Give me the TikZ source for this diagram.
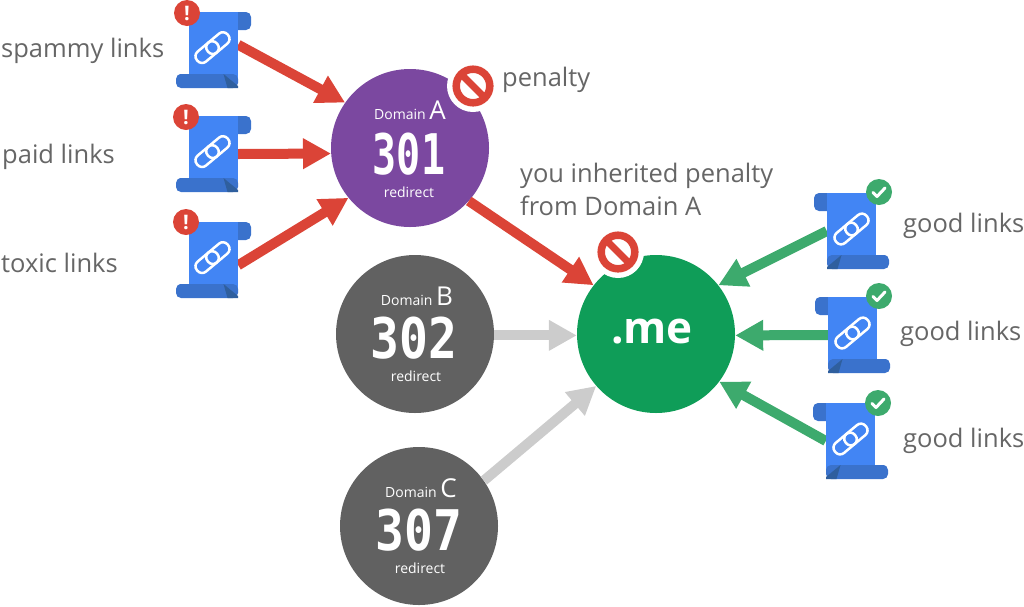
\documentclass[tikz,border=0pt]{standalone}
\usepackage{graphicx}
\usepackage{fontspec}
\setmainfont{Open Sans}
\newfontfamily\numfont{DejaVu Sans Mono}
\usetikzlibrary{arrows.meta}
\definecolor{docblue}{HTML}{4285F4}
\definecolor{docdark}{HTML}{3A72CC}
\definecolor{docfold}{HTML}{2F5F9E}
\definecolor{badred}{HTML}{DB4437}
\definecolor{goodgreen}{HTML}{3DAA6D}
\definecolor{megreen}{HTML}{0F9D58}
\definecolor{palegray}{HTML}{CCCCCC}
\definecolor{textgray}{HTML}{666666}
\definecolor{domgray}{HTML}{616161}
\definecolor{dompurple}{HTML}{7B48A0}
\newcommand{\domfigure}[2]{\scalebox{#1}[1.12]{#2}}
\tikzset{
  domain/.style={circle,fill=#1,minimum size=158,inner sep=0},
  label/.style={anchor=base west,text=textgray,font=\fontsize{25.5}{25.5}\selectfont,inner sep=0},
  dominfo/.style={text=white,font=\fontsize{14}{14}\selectfont,inner sep=0},
  domnum/.style={text=white,font=\numfont\bfseries\fontsize{50}{50}\selectfont,inner sep=0},
  doc/.style={minimum width=49,minimum height=76,inner sep=0},
  link/.style={-{Triangle[length=28,width=29]},line width=10,#1},
  scrollsheet/.pic={
    \fill[docdark,rounded corners=5] (18,-38) -- (37.5,-38) -- (37.5,-20) -- (18,-20) -- cycle;
    \fill[docblue] (-24.5,-38) -- (24.5,-38) -- (24.5,30) -- (-24.5,30) -- cycle;
    \fill[docdark,rounded corners=5] (-30,24) -- (-37.5,24) -- (-37.5,38) -- (24.5,38) -- (24.5,24) -- cycle;
    \fill[docfold] (10,24) -- (24.5,36) -- (24.5,38) -- (14,38) -- cycle;
  },
  chainicon/.pic={
    \draw[white,line width=2.5,rounded corners=6,rotate=40,shift={(-7,0)}] (-13,-6.5) rectangle (13,6.5);
    \draw[white,line width=2.5,rounded corners=6,rotate=40,shift={(7,0)}] (-13,-6.5) rectangle (13,6.5);
  },
  stopsign/.pic={
    \fill[white] (0,0) circle (26);
    \draw[badred,line width=7.5] (0,0) circle (16.8);
    \draw[badred,line width=7] (-12,-12) -- (12,12);
  },
  alertbadge/.pic={
    \fill[badred] (0,0) circle (13);
    \node[text=white,font=\bfseries\fontsize{20}{20}\selectfont,inner sep=0] {!};
  },
  checkbadge/.pic={
    \fill[goodgreen] (0,0) circle (13);
    \draw[white,line width=3,line cap=round,line join=round] (-6,0.5) -- (-2,4.5) -- (6,-4);
  }
}

\begin{document}
\begin{tikzpicture}[x=1pt,y=-1pt]
\useasboundingbox (0,0) rectangle (1024,606);
% circles
\node[domain=dompurple] (domA) at (410,148) {};
\node[domain=domgray] (domB) at (415,334) {};
\node[domain=domgray] (domC) at (419,526) {};
\node[domain=megreen] (me) at (656,334) {};
% documents
\node[doc] (docS) at (213.5,50) {};
\node[doc] (docP) at (213.5,154) {};
\node[doc] (docT) at (213.5,260) {};
\node[doc] (docG1) at (851.5,231) {};
\node[doc] (docG2) at (852.5,335) {};
\node[doc] (docG3) at (850.5,441) {};
% arrows
\draw[link=badred] (docS.12) -- (domA.145);
\draw[link=badred] (docP.east) -- (domA.184);
\draw[link=badred] (docT.-12) -- (domA.219);
\draw[link=badred] (domA.-42) -- (me.142);
\draw[link=palegray] (domB.-1) -- (me.181);
\draw[link=palegray] (domC.35) -- (me.221);
\draw[link=goodgreen] (docG1.west) -- (me.38);
\draw[link=goodgreen] (docG2.west) -- (me.-1);
\draw[link=goodgreen] (docG3.west) -- (me.-37);
% left documents
\pic at (docS) {scrollsheet};
\pic at (docP) {scrollsheet};
\pic at (docT) {scrollsheet};
\pic at ([shift={(-1,-2.4)}]docS) {chainicon};
\pic at ([shift={(-1,-2.4)}]docP) {chainicon};
\pic at ([shift={(-1,-2.4)}]docT) {chainicon};
\pic at (187,13) {alertbadge};
\pic at (186,117) {alertbadge};
\pic at (186,222) {alertbadge};
% right documents
\pic[xscale=-1] at (docG1) {scrollsheet};
\pic[xscale=-1] at (docG2) {scrollsheet};
\pic[xscale=-1] at (docG3) {scrollsheet};
\pic at ([shift={(0,-2)}]docG1) {chainicon};
\pic at ([shift={(0,-2)}]docG2) {chainicon};
\pic at ([shift={(0,-2)}]docG3) {chainicon};
\pic at (879,192) {checkbadge};
\pic at (879,296) {checkbadge};
\pic at (878,403) {checkbadge};
% penalty signs
\pic at (473,86) {stopsign};
\pic at (618,252) {stopsign};
% circle texts
\node[dominfo,anchor=base] (infoA) at (410,119) {Domain \fontsize{26}{26}\selectfont A};
\node[domnum] (numA) at (409,154) {\domfigure{0.8}{301}};
\node[dominfo] (redA) at (409,192) {redirect};
\node[dominfo,anchor=base] (infoB) at (417,305) {Domain \fontsize{26}{26}\selectfont B};
\node[domnum] (numB) at (414,338.5) {\domfigure{0.96}{302}};
\node[dominfo] (redB) at (416,376) {redirect};
\node[dominfo,anchor=base] (infoC) at (421,497) {Domain \fontsize{26}{26}\selectfont C};
\node[domnum] (numC) at (419,530) {\domfigure{0.96}{307}};
\node[dominfo] (redC) at (420,568) {redirect};
\node[anchor=base,text=white,inner sep=0,font=\bfseries\fontsize{44}{44}\selectfont] (meT) at (652,343) {.me};
% labels
\node[label] (lblS) at (1,57) {spammy links};
\node[label] (lblP) at (2,163) {paid links};
\node[label] (lblT) at (1,272) {toxic links};
\node[label] (lblPen) at (502,86) {penalty};
\node[label] (lblY) at (520,182) {you inherited penalty};
\node[label] (lblF) at (520,215) {from Domain A};
\node[label] (lblG1) at (903,232) {good links};
\node[label] (lblG2) at (900,340) {good links};
\node[label] (lblG3) at (903,447) {good links};
\end{tikzpicture}
\end{document}
